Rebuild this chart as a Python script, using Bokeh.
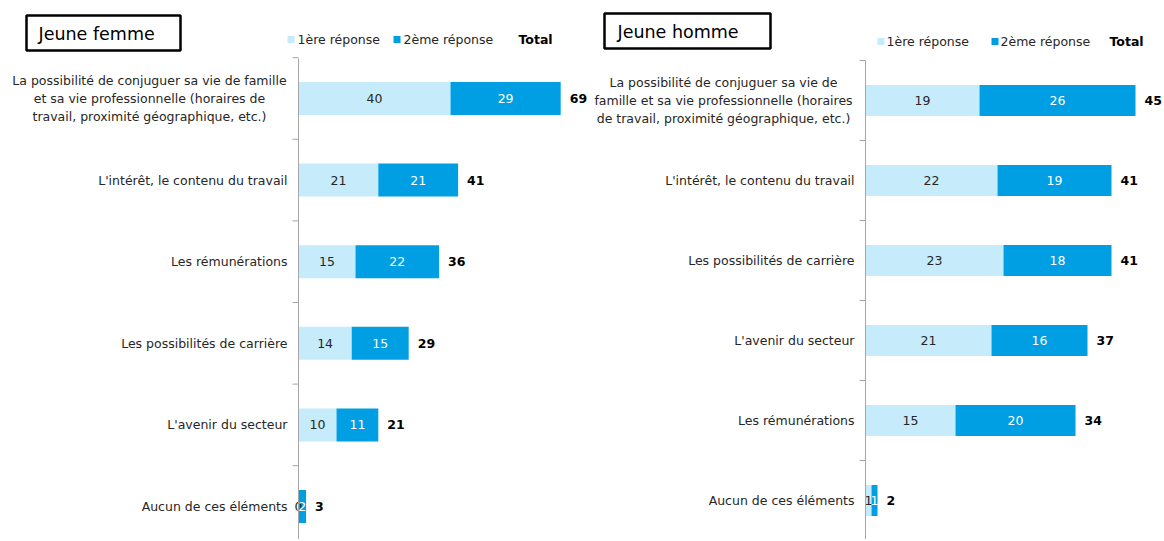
from bokeh.plotting import figure
from bokeh.layouts import row
from bokeh.models import Range1d, ColumnDataSource
from bokeh.embed import file_html
from bokeh.resources import INLINE
from bokeh.core.properties import value

# ---------------- data ----------------
femme_categories = [
    "La possibilité de conjuguer sa vie de famille\net sa vie professionnelle (horaires de\ntravail, proximité géographique, etc.)",
    "L'intérêt, le contenu du travail",
    "Les rémunérations",
    "Les possibilités de carrière",
    "L'avenir du secteur",
    "Aucun de ces éléments",
]
femme_rep1 = [40, 21, 15, 14, 10, 0]
femme_rep2 = [29, 21, 22, 15, 11, 2]
femme_total = [69, 41, 36, 29, 21, 3]

homme_categories = [
    "La possibilité de conjuguer sa vie de\nfamille et sa vie professionnelle (horaires\nde travail, proximité géographique, etc.)",
    "L'intérêt, le contenu du travail",
    "Les possibilités de carrière",
    "L'avenir du secteur",
    "Les rémunérations",
    "Aucun de ces éléments",
]
homme_rep1 = [19, 22, 23, 21, 15, 1]
homme_rep2 = [26, 19, 18, 16, 20, 1]
homme_total = [45, 41, 41, 37, 34, 2]

legend_labels = ["1ère réponse", "2ème réponse", "Total"]

# ---------------- style ----------------
LIGHT = "#C6EBFA"
DARK = "#009FE3"
AXIS = "#A6A6A6"
FONT = "DejaVu Sans"
FS = "12.5px"
H = 539


def panel(title, cats, r1, r2, tot, width, axis_px, scale, y0_px, step_px, bar_px,
          multi_center_off, box, title_pos, legend_pos, axis_top):
    x_start = -axis_px / scale
    x_end = (width - axis_px) / scale
    y_top = -y0_px / step_px
    y_bot = (H - y0_px) / step_px
    p = figure(width=width, height=H, x_range=Range1d(x_start, x_end),
               y_range=Range1d(y_bot, y_top), output_backend="svg",
               toolbar_location=None, min_border=0, outline_line_color=None)
    p.axis.visible = False
    p.grid.visible = False
    p.background_fill_color = "white"

    def fx(px):
        return x_start + px / scale

    def fy(py):
        return y_top + py / step_px

    n = len(cats)
    idx = list(range(n))
    ends = [a + b for a, b in zip(r1, r2)]
    src = ColumnDataSource(dict(
        y=idx, r1=r1, end=ends,
        mid1=[a / 2 for a in r1],
        mid2=[a + b / 2 for a, b in zip(r1, r2)],
        l1=[str(v) for v in r1], l2=[str(v) for v in r2], lt=[str(v) for v in tot],
    ))
    h = bar_px / step_px
    p.hbar(y="y", left=0, right="r1", height=h, fill_color=LIGHT, line_color=None, source=src)
    p.hbar(y="y", left="r1", right="end", height=h, fill_color=DARK, line_color=None, source=src)

    tkw = dict(text_font=value(FONT), text_font_size=FS, text_baseline="middle")
    p.text(x="mid1", y="y", text="l1", text_align="center", text_color="#262626", source=src, **tkw)
    p.text(x="mid2", y="y", text="l2", text_align="center", text_color="white", source=src, **tkw)
    p.text(x="end", y="y", text="lt", text_align="left", x_offset=9, text_color="black",
           text_font_style="bold", source=src, **tkw)

    # category labels
    single = [i for i in idx if "\n" not in cats[i]]
    multi = [i for i in idx if "\n" in cats[i]]
    p.text(x=[0] * len(single), y=single, text=[cats[i] for i in single], text_align="right",
           x_offset=-11, text_color="#262626", **tkw)
    p.text(x=[0] * len(multi), y=multi, text=[cats[i] for i in multi], text_align="center",
           x_offset=multi_center_off, text_color="#262626", text_line_height=1.2, **tkw)

    # axis line with ticks between categories
    p.segment(x0=[0], y0=[fy(axis_top)], x1=[0], y1=[fy(H + 20)], line_color=AXIS, line_width=1)
    bounds = [i - 0.5 for i in range(n + 1)]
    p.segment(x0=[fx(axis_px - 6)] * len(bounds), y0=bounds, x1=[0] * len(bounds), y1=bounds,
              line_color=AXIS, line_width=1)

    # title box
    bx0, by0, bx1, by1 = box
    p.quad(left=[fx(bx0)], right=[fx(bx1)], top=[fy(by0)], bottom=[fy(by1)],
           fill_color=None, line_color="black", line_width=2.5)
    p.text(x=[fx(title_pos[0])], y=[fy(title_pos[1])], text=[title], text_font=value(FONT),
           text_font_size="17.5px", text_baseline="middle", text_align="left", text_color="black")

    # legend
    sq1, t1, sq2, t2, tt, ly = legend_pos
    p.scatter(x=[fx(sq1), fx(sq2)], y=[fy(ly), fy(ly)], marker="square", size=7,
              fill_color=[LIGHT, DARK], line_color=None)
    p.text(x=[fx(t1), fx(t2)], y=[fy(ly), fy(ly)], text=legend_labels[:2], text_align="left",
           text_color="#262626", **tkw)
    p.text(x=[fx(tt)], y=[fy(ly)], text=[legend_labels[2]], text_align="left",
           text_color="black", text_font_style="bold", **tkw)
    return p


left = panel("Jeune femme", femme_categories, femme_rep1, femme_rep2, femme_total,
             width=590, axis_px=298, scale=3.8, y0_px=98, step_px=81.6, bar_px=33,
             multi_center_off=-149, box=(26, 15, 180, 50), title_pos=(38, 33),
             legend_pos=(290.5, 297, 396.5, 403, 518, 39), axis_top=58)

right = panel("Jeune homme", homme_categories, homme_rep1, homme_rep2, homme_total,
              width=572, axis_px=275, scale=6.0, y0_px=100, step_px=80, bar_px=31,
              multi_center_off=-142, box=(14, 13, 180, 48), title_pos=(27, 31),
              legend_pos=(290.5, 296, 404.5, 410, 519, 41), axis_top=60)

layout = row(left, right, spacing=0)
open("out.html", "w").write(file_html(layout, INLINE))
